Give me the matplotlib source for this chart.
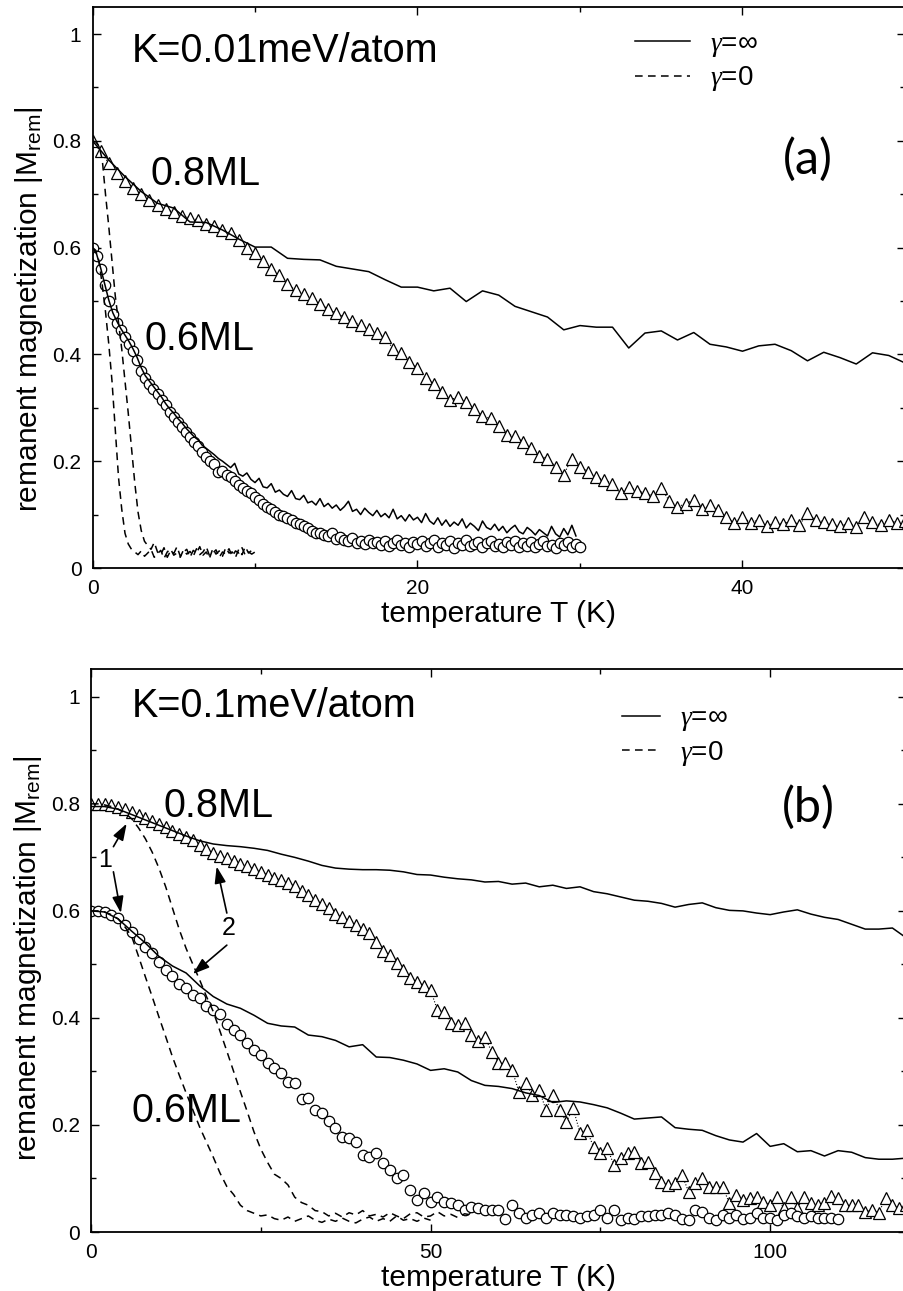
import numpy as np
import matplotlib
matplotlib.use("Agg")
import matplotlib.pyplot as plt

plt.rcParams['font.family'] = ['Liberation Sans', 'DejaVu Sans']
plt.rcParams['mathtext.fontset'] = 'custom'
plt.rcParams['mathtext.rm'] = 'Liberation Sans'
plt.rcParams['mathtext.it'] = 'Liberation Serif:italic'

# ---------------- panel (a): K=0.01meV/atom ----------------
Ta_line = np.arange(0, 51, 1)
Ma_line08 = [0.800, 0.764, 0.733, 0.705, 0.683, 0.674, 0.648, 0.647, 0.633, 0.616,
             0.601, 0.601, 0.580, 0.578, 0.577, 0.565, 0.560, 0.555, 0.540, 0.526,
             0.526, 0.519, 0.524, 0.499, 0.519, 0.511, 0.490, 0.480, 0.470, 0.446,
             0.454, 0.451, 0.451, 0.412, 0.440, 0.444, 0.427, 0.441, 0.419, 0.414,
             0.406, 0.416, 0.419, 0.407, 0.388, 0.404, 0.394, 0.382, 0.403, 0.398,
             0.384]

Ta_tri = np.arange(0, 50.01, 0.5)
Ma_tri08 = [0.800, 0.780, 0.758, 0.740, 0.725, 0.712, 0.700, 0.690, 0.680, 0.672,
            0.666, 0.660, 0.655, 0.652, 0.645, 0.640, 0.633, 0.627, 0.615, 0.600,
            0.590, 0.574, 0.560, 0.548, 0.532, 0.520, 0.513, 0.505, 0.495, 0.485,
            0.477, 0.470, 0.462, 0.455, 0.448, 0.440, 0.433, 0.410, 0.402, 0.385,
            0.375, 0.355, 0.345, 0.330, 0.315, 0.320, 0.310, 0.298, 0.285, 0.280,
            0.265, 0.250, 0.248, 0.236, 0.225, 0.210, 0.205, 0.190, 0.175, 0.205,
            0.190, 0.180, 0.170, 0.165, 0.158, 0.140, 0.152, 0.145, 0.140, 0.135,
            0.150, 0.125, 0.115, 0.120, 0.128, 0.110, 0.118, 0.108, 0.095, 0.084,
            0.096, 0.085, 0.090, 0.078, 0.087, 0.082, 0.090, 0.080, 0.103, 0.090,
            0.087, 0.082, 0.078, 0.084, 0.077, 0.095, 0.087, 0.080, 0.090, 0.085,
            0.088]

Ta_circ = np.arange(0, 30.01, 0.25)
Ma_circ06 = [0.600, 0.585, 0.560, 0.530, 0.500, 0.475, 0.458, 0.445, 0.433, 0.420,
             0.407, 0.390, 0.368, 0.355, 0.345, 0.335, 0.325, 0.315, 0.305, 0.293,
             0.283, 0.274, 0.264, 0.255, 0.245, 0.236, 0.228, 0.218, 0.208, 0.200,
             0.195, 0.180, 0.182, 0.175, 0.170, 0.163, 0.155, 0.150, 0.145, 0.140,
             0.133, 0.128, 0.120, 0.114, 0.110, 0.105, 0.100, 0.097, 0.093, 0.090,
             0.085, 0.082, 0.078, 0.075, 0.070, 0.066, 0.065, 0.062, 0.060, 0.066,
             0.055, 0.058, 0.052, 0.050, 0.056, 0.047, 0.050, 0.045, 0.052, 0.046,
             0.048, 0.044, 0.050, 0.042, 0.047, 0.052, 0.043, 0.046, 0.040, 0.049,
             0.045, 0.050, 0.041, 0.046, 0.053, 0.040, 0.046, 0.043, 0.050, 0.038,
             0.047, 0.044, 0.052, 0.041, 0.045, 0.049, 0.039, 0.046, 0.050, 0.042,
             0.045, 0.040, 0.048, 0.044, 0.051, 0.039, 0.046, 0.042, 0.049, 0.040,
             0.045, 0.050, 0.041, 0.044, 0.038, 0.047, 0.043, 0.048, 0.040, 0.045,
             0.040]

Ta_noisy = np.arange(0, 29.76, 0.25)
Ma_line06 = [0.600, 0.588, 0.562, 0.532, 0.502, 0.478, 0.462, 0.448, 0.436, 0.424,
             0.410, 0.394, 0.375, 0.360, 0.350, 0.340, 0.330, 0.320, 0.308, 0.298,
             0.290, 0.280, 0.272, 0.262, 0.254, 0.246, 0.240, 0.230, 0.224, 0.218,
             0.212, 0.205, 0.200, 0.194, 0.188, 0.196, 0.176, 0.172, 0.178, 0.166,
             0.160, 0.168, 0.152, 0.150, 0.158, 0.142, 0.146, 0.138, 0.134, 0.145,
             0.130, 0.128, 0.136, 0.122, 0.125, 0.118, 0.130, 0.115, 0.121, 0.112,
             0.118, 0.108, 0.115, 0.125, 0.106, 0.110, 0.100, 0.112, 0.104, 0.098,
             0.108, 0.096, 0.102, 0.094, 0.110, 0.092, 0.098, 0.088, 0.100, 0.090,
             0.095, 0.085, 0.102, 0.088, 0.082, 0.094, 0.080, 0.090, 0.078, 0.086,
             0.080, 0.092, 0.075, 0.084, 0.078, 0.070, 0.088, 0.076, 0.072, 0.082,
             0.070, 0.078, 0.066, 0.074, 0.080, 0.068, 0.064, 0.076, 0.070, 0.062,
             0.072, 0.066, 0.060, 0.078, 0.064, 0.058, 0.074, 0.062, 0.080, 0.060]

Ta_dash = np.arange(0, 10.01, 0.2)
Ma_dash08 = [0.800, 0.798, 0.790, 0.765, 0.700, 0.640, 0.575, 0.510, 0.460, 0.410,
             0.350, 0.290, 0.225, 0.160, 0.105, 0.070, 0.050, 0.042, 0.035, 0.048,
             0.030, 0.025, 0.038, 0.020, 0.032, 0.027, 0.040, 0.022, 0.030, 0.035,
             0.020, 0.033, 0.028, 0.040, 0.024, 0.030, 0.018, 0.036, 0.026, 0.032,
             0.022, 0.038, 0.028, 0.030, 0.020, 0.035, 0.025, 0.040, 0.028, 0.033,
             0.038]
Ma_dash06 = [0.600, 0.595, 0.575, 0.530, 0.480, 0.420, 0.350, 0.260, 0.170, 0.110,
             0.065, 0.045, 0.035, 0.030, 0.025, 0.032, 0.022, 0.028, 0.035, 0.020,
             0.027, 0.033, 0.018, 0.030, 0.036, 0.024, 0.028, 0.020, 0.034, 0.026,
             0.031, 0.022, 0.036, 0.025, 0.030, 0.040, 0.023, 0.028, 0.034, 0.020,
             0.030, 0.026, 0.036, 0.022, 0.032, 0.028, 0.038, 0.024, 0.030, 0.026,
             0.030]

# ---------------- panel (b): K=0.1meV/atom ----------------
Tb_line = np.arange(0, 121, 2)
Mb_line08 = [0.795, 0.795, 0.790, 0.780, 0.770, 0.760, 0.750, 0.740, 0.731, 0.725,
             0.722, 0.720, 0.717, 0.713, 0.706, 0.700, 0.693, 0.685, 0.680, 0.678,
             0.677, 0.677, 0.676, 0.673, 0.668, 0.667, 0.663, 0.660, 0.658, 0.654,
             0.655, 0.650, 0.652, 0.645, 0.648, 0.642, 0.645, 0.636, 0.632, 0.626,
             0.620, 0.618, 0.614, 0.607, 0.612, 0.615, 0.606, 0.601, 0.600, 0.596,
             0.593, 0.598, 0.602, 0.594, 0.588, 0.584, 0.575, 0.566, 0.566, 0.568,
             0.550]
Mb_line06 = [0.600, 0.598, 0.585, 0.562, 0.540, 0.515, 0.497, 0.484, 0.460, 0.440,
             0.426, 0.418, 0.405, 0.390, 0.385, 0.383, 0.368, 0.365, 0.358, 0.346,
             0.350, 0.327, 0.326, 0.321, 0.314, 0.302, 0.305, 0.299, 0.283, 0.274,
             0.272, 0.268, 0.260, 0.255, 0.242, 0.245, 0.243, 0.238, 0.232, 0.222,
             0.211, 0.213, 0.215, 0.195, 0.192, 0.190, 0.180, 0.172, 0.168, 0.184,
             0.160, 0.165, 0.150, 0.152, 0.142, 0.152, 0.149, 0.139, 0.136, 0.136,
             0.138]

Tb_tri = np.arange(0, 121, 1)
Mb_tri08 = [0.800, 0.800, 0.799, 0.797, 0.794, 0.790, 0.785, 0.780, 0.774, 0.768,
            0.762, 0.756, 0.750, 0.744, 0.738, 0.732, 0.724, 0.716, 0.708, 0.702,
            0.698, 0.693, 0.688, 0.683, 0.678, 0.673, 0.668, 0.662, 0.657, 0.652,
            0.646, 0.638, 0.629, 0.620, 0.613, 0.605, 0.595, 0.588, 0.582, 0.573,
            0.566, 0.558, 0.542, 0.525, 0.518, 0.503, 0.490, 0.475, 0.468, 0.460,
            0.452, 0.415, 0.411, 0.390, 0.387, 0.390, 0.368, 0.356, 0.365, 0.336,
            0.316, 0.316, 0.303, 0.262, 0.278, 0.256, 0.265, 0.228, 0.256, 0.228,
            0.206, 0.231, 0.185, 0.190, 0.159, 0.148, 0.157, 0.125, 0.138, 0.148,
            0.150, 0.129, 0.131, 0.110, 0.093, 0.088, 0.092, 0.107, 0.075, 0.092,
            0.101, 0.084, 0.084, 0.084, 0.054, 0.069, 0.060, 0.064, 0.065, 0.056,
            0.050, 0.065, 0.045, 0.065, 0.045, 0.065, 0.054, 0.050, 0.054, 0.067,
            0.064, 0.050, 0.050, 0.050, 0.037, 0.041, 0.036, 0.064, 0.050, 0.045,
            0.050]

Tb_circ = np.arange(0, 111, 1)
Mb_circ06 = [0.600, 0.600, 0.598, 0.593, 0.587, 0.574, 0.561, 0.548, 0.533, 0.521,
             0.505, 0.489, 0.479, 0.463, 0.456, 0.443, 0.437, 0.422, 0.415, 0.407,
             0.389, 0.378, 0.368, 0.353, 0.340, 0.331, 0.316, 0.307, 0.297, 0.280,
             0.278, 0.248, 0.250, 0.228, 0.222, 0.207, 0.194, 0.178, 0.175, 0.169,
             0.144, 0.140, 0.148, 0.129, 0.116, 0.101, 0.107, 0.079, 0.060, 0.072,
             0.056, 0.066, 0.056, 0.054, 0.050, 0.041, 0.047, 0.045, 0.041, 0.041,
             0.041, 0.024, 0.050, 0.035, 0.026, 0.032, 0.035, 0.026, 0.035, 0.032,
             0.032, 0.029, 0.026, 0.029, 0.032, 0.041, 0.026, 0.041, 0.022, 0.026,
             0.024, 0.029, 0.030, 0.032, 0.032, 0.035, 0.032, 0.024, 0.022, 0.041,
             0.038, 0.026, 0.022, 0.032, 0.026, 0.032, 0.024, 0.026, 0.035, 0.026,
             0.026, 0.022, 0.032, 0.035, 0.029, 0.026, 0.029, 0.026, 0.026, 0.026,
             0.024]

Tb_dash08 = np.arange(0, 57, 1)
Mb_dash08 = [0.800, 0.800, 0.798, 0.795, 0.790, 0.783, 0.772, 0.755, 0.735, 0.710,
             0.680, 0.645, 0.605, 0.565, 0.530, 0.500, 0.471, 0.440, 0.412, 0.375,
             0.338, 0.300, 0.262, 0.225, 0.187, 0.155, 0.130, 0.108, 0.100, 0.088,
             0.065, 0.055, 0.050, 0.040, 0.038, 0.030, 0.035, 0.028, 0.036, 0.032,
             0.040, 0.030, 0.033, 0.028, 0.036, 0.030, 0.025, 0.034, 0.036, 0.028,
             0.030, 0.038, 0.030, 0.033, 0.027, 0.034, 0.032]
Tb_dash06 = np.arange(0, 51, 1)
Mb_dash06 = [0.600, 0.600, 0.598, 0.593, 0.585, 0.570, 0.552, 0.515, 0.477, 0.440,
             0.402, 0.365, 0.327, 0.293, 0.260, 0.228, 0.196, 0.168, 0.140, 0.110,
             0.085, 0.070, 0.050, 0.040, 0.035, 0.030, 0.032, 0.025, 0.022, 0.028,
             0.020, 0.025, 0.030, 0.022, 0.018, 0.024, 0.020, 0.026, 0.020, 0.017,
             0.024, 0.028, 0.020, 0.025, 0.020, 0.030, 0.022, 0.025, 0.020, 0.026,
             0.022]

yticks = [0, 0.2, 0.4, 0.6, 0.8, 1]
yticklabels = ['0', '0.2', '0.4', '0.6', '0.8', '1']
legend_labels = ['$\\gamma$=\u221e', '$\\gamma$=0']

DASH = (0, (5, 3.5))
fig = plt.figure(figsize=(9.04, 12.91), dpi=100)
ax1 = fig.add_axes([92.5/904, 723/1291, 812.5/904, 561/1291])
ax2 = fig.add_axes([91/904, 59/1291, 815/904, 563/1291])


def style(ax, xmax, xmaj, xmin, ytop):
    ax.set_xlim(0, xmax)
    ax.set_ylim(0, ytop)
    ax.set_xticks(xmaj)
    ax.set_xticks(xmin, minor=True)
    ax.set_xticklabels([str(v) for v in xmaj])
    ax.set_yticks(yticks)
    ax.set_yticklabels(yticklabels)
    ax.set_yticks([0.1, 0.3, 0.5, 0.7, 0.9], minor=True)
    ax.tick_params(which='both', direction='in', top=True, right=True,
                   labelsize=15, width=1, pad=8)
    ax.tick_params(which='major', length=6)
    ax.tick_params(which='minor', length=3.5)
    for s in ax.spines.values():
        s.set_linewidth(1.3)
    ax.set_xlabel('temperature T (K)', fontsize=21.5, labelpad=1)
    ax.set_ylabel('remanent magnetization |M$_{\\mathrm{rem}}$|', fontsize=21.5)


# panel (a)
ax1.plot(Ta_tri, Ma_tri08, color='k', lw=0.8, ls=':', marker='^', ms=9,
         mfc='white', mec='k', mew=0.9, zorder=2)
ax1.plot(Ta_circ, Ma_circ06, ls='none', marker='o', ms=7.5,
         mfc='white', mec='k', mew=0.9, zorder=2)
l1, = ax1.plot(Ta_line, Ma_line08, color='k', lw=1.1, zorder=3)
ax1.plot(Ta_noisy, Ma_line06, color='k', lw=1.1, zorder=3)
l2, = ax1.plot(Ta_dash, Ma_dash08, color='k', lw=1.1, ls=DASH, zorder=3)
ax1.plot(Ta_dash, Ma_dash06, color='k', lw=1.1, ls=DASH, zorder=3)
style(ax1, 50, [0, 20, 40], [10, 30, 50], 1.0506)
ax1.yaxis.set_label_coords(-0.058, 0.462)
ax1.text(2.4, 0.948, 'K=0.01meV/atom', fontsize=28.5, va='baseline')
ax1.text(3.6, 0.717, '0.8ML', fontsize=28.5, va='baseline')
ax1.text(3.2, 0.408, '0.6ML', fontsize=28.5, va='baseline')
ax1.text(44.0, 0.766, '(a)', fontsize=35, family='Lato', ha='center', va='center')
ax1.legend([l1, l2], legend_labels, frameon=False, fontsize=20,
           loc='center left', bbox_to_anchor=(542.5/812.5, (568-62)/561),
           borderaxespad=0, borderpad=0, handlelength=1.98, handletextpad=0.72,
           labelspacing=0.2)

# panel (b)
ax2.plot(Tb_tri, Mb_tri08, color='k', lw=0.8, ls=':', marker='^', ms=9,
         mfc='white', mec='k', mew=0.9, zorder=2)
ax2.plot(Tb_circ, Mb_circ06, ls='none', marker='o', ms=7.5,
         mfc='white', mec='k', mew=0.9, zorder=2)
l1, = ax2.plot(Tb_line, Mb_line08, color='k', lw=1.1, zorder=3)
ax2.plot(Tb_line, Mb_line06, color='k', lw=1.1, zorder=3)
l2, = ax2.plot(Tb_dash08, Mb_dash08, color='k', lw=1.1, ls=DASH, zorder=3)
ax2.plot(Tb_dash06, Mb_dash06, color='k', lw=1.1, ls=DASH, zorder=3)
style(ax2, 120, [0, 50, 100], [25, 75], 1.052)
ax2.yaxis.set_label_coords(-0.058, 0.487)
ax2.text(6.0, 0.963, 'K=0.1meV/atom', fontsize=28.5, va='baseline')
ax2.text(10.7, 0.776, '0.8ML', fontsize=28.5, va='baseline')
ax2.text(6.0, 0.206, '0.6ML', fontsize=28.5, va='baseline')
ax2.text(105.6, 0.793, '(b)', fontsize=35, family='Lato', ha='center', va='center')
ax2.legend([l1, l2], legend_labels, frameon=False, fontsize=20,
           loc='center left', bbox_to_anchor=(531/815, (1232-736.5)/563),
           borderaxespad=0, borderpad=0, handlelength=1.37, handletextpad=0.72,
           labelspacing=0.2)

arrow = dict(arrowstyle='-|>,head_length=0.5,head_width=0.17', color='k',
             lw=1.2, mutation_scale=20, shrinkA=0, shrinkB=0)
ax2.text(2.1, 0.695, '1', fontsize=18, ha='center', va='center')
ax2.annotate('', xy=(5.25, 0.763), xytext=(3.3, 0.72), arrowprops=arrow)
ax2.annotate('', xy=(4.4, 0.596), xytext=(3.3, 0.673), arrowprops=arrow)
ax2.text(20.2, 0.568, '2', fontsize=18, ha='center', va='center')
ax2.annotate('', xy=(18.5, 0.683), xytext=(20.0, 0.596), arrowprops=arrow)
ax2.annotate('', xy=(15.0, 0.482), xytext=(20.0, 0.536), arrowprops=arrow)

fig.savefig('out.png', dpi=100)
